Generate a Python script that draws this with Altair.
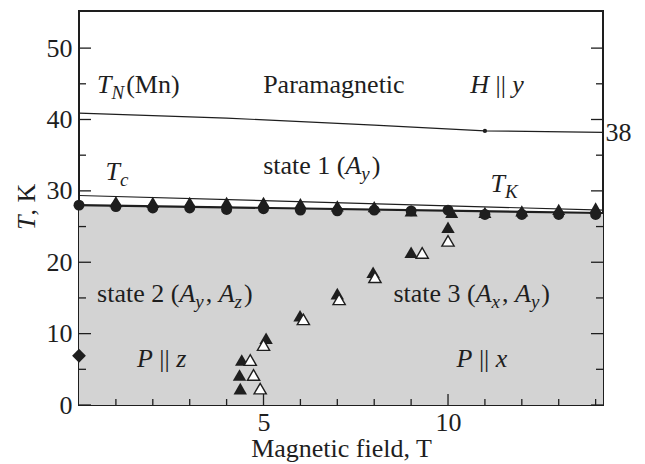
import altair as alt
import pandas as pd

FONT = "'Liberation Serif', 'Times New Roman', 'DejaVu Serif', serif"
INK = "#1e1e1e"
GRAY = "#d3d3d3"

# ---------------- data ----------------
# phase boundary T_K(H): filled circles and filled triangles
circ_H = [0, 1, 2, 3, 4, 5, 6, 7, 8, 9, 10, 11, 12, 13, 14]
circ_T = [28.0, 27.8, 27.6, 27.6, 27.4, 27.5, 27.3, 27.2, 27.3, 27.2, 27.3, 26.7, 26.7, 26.7, 26.7]
triK_H = [1, 2, 3, 4, 5, 6, 7, 8, 9, 10.1, 11, 12, 13, 14]
triK_T = [28.5, 28.4, 28.4, 28.4, 28.4, 28.2, 27.9, 27.8, 27.2, 27.0, 27.0, 27.2, 27.4, 27.6]

# spin-reorientation boundary state2/state3
fill_H = [4.37, 4.35, 4.41, 5.07, 5.99, 7.0, 7.97, 9.0, 10.0]
fill_T = [2.3, 4.2, 6.3, 9.35, 12.5, 15.6, 18.6, 21.4, 24.9]
open_H = [4.91, 4.73, 4.64, 5.0, 6.08, 7.05, 8.02, 9.3, 10.0]
open_T = [2.3, 4.2, 6.3, 8.4, 12.0, 14.8, 17.9, 21.3, 23.0]

# zero-field point
dia_H = [0]
dia_T = [6.9]

# lines
tn_H = [0, 4, 8, 11, 14.2]
tn_T = [40.9, 40.2, 39.2, 38.4, 38.2]
tc_H = [0, 14.2]
tc_T = [29.35, 27.3]
tk_H = [0, 14.2]
tk_T = [28.0, 26.9]
dot_H = [11]
dot_T = [38.4]

# axes
x_major = [5, 10]
x_minor = [1, 2, 3, 4, 6, 7, 8, 9, 11, 12, 13, 14]
y_major = [0, 10, 20, 30, 40, 50]
y_minor = [5, 15, 25, 35, 45]
X_MAX = 14.2
Y_MAX = 55.2

W, H = 524, 394
PX_X = W / X_MAX
PX_Y = H / Y_MAX

# ---------------- text pieces ----------------
ROMAN_W = {' ': 250, '(': 333, ')': 333, ',': 250, '1': 500, '2': 500, '3': 500, '8': 500,
           's': 389, 't': 278, 'a': 444, 'e': 444, 'M': 889, 'n': 500, 'P': 556, 'r': 333,
           'm': 778, 'g': 500, 'i': 278, 'c': 444, '|': 200, 'K': 722}
ITALIC_W = {'T': 556, 'N': 667, 'c': 444, 'K': 667, 'A': 611, 'y': 444, 'z': 389,
            'x': 444, 'H': 722, 'P': 611}
SIZE = 26
SUB = 19
SUB_DROP = 6


def seg_width(text, style):
    if style == 'r':
        return sum(ROMAN_W.get(ch, 500) for ch in text) / 1000 * SIZE
    size = SIZE if style == 'i' else SUB
    return sum(ITALIC_W.get(ch, 500) for ch in text) / 1000 * size


labels = [
    (0.49, 43.73, [("T", "i"), ("N", "s"), ("(Mn)", "r")]),
    (4.99, 43.73, [("Paramagnetic", "r")]),
    (10.6, 43.73, [("H", "i"), (" || ", "r"), ("y", "i")]),
    (0.72, 31.47, [("T", "i"), ("c", "s")]),
    (4.99, 32.38, [("state 1 (", "r"), ("A", "i"), ("y", "s"), (")", "r")]),
    (11.15, 29.79, [("T", "i"), ("K", "s")]),
    (0.49, 14.44, [("state 2 (", "r"), ("A", "i"), ("y", "s"), (", ", "r"), ("A", "i"), ("z", "s"), (")", "r")]),
    (8.52, 14.44, [("state 3 (", "r"), ("A", "i"), ("x", "s"), (", ", "r"), ("A", "i"), ("y", "s"), (")", "r")]),
    (1.57, 5.33, [("P", "i"), (" || ", "r"), ("z", "i")]),
    (10.23, 5.33, [("P", "i"), (" || ", "r"), ("x", "i")]),
    (14.27, 37.05, [("38", "r")]),
]

SPACE = ROMAN_W[' '] / 1000 * SIZE

rows = []
for x0, y0, segs in labels:
    off = 0.0
    for txt, st in segs:
        lead = len(txt) - len(txt.lstrip(' '))
        trail = len(txt) - len(txt.rstrip(' '))
        core = txt.strip(' ')
        off += lead * SPACE
        yy = y0 - (SUB_DROP / PX_Y if st == 's' else 0)
        rows.append({"H": x0 + off / PX_X, "T": yy, "text": core, "style": st, "angle": 0})
        off += seg_width(core, st) + trail * SPACE + (2 if st == 's' else 0)

# rotated y title "T, K"
yt_x, yt_y = -1.19, 24.53
off = 0.0
for txt, st in [("T", "i"), (", K", "r")]:
    rows.append({"H": yt_x, "T": yt_y + off / PX_Y, "text": txt, "style": st, "angle": 270})
    off += seg_width(txt, st)

texts = pd.DataFrame(rows)

# ---------------- chart ----------------
xs = alt.Scale(domain=[0, X_MAX], nice=False, zero=False)
ys = alt.Scale(domain=[0, Y_MAX], nice=False, zero=False)

x_axis = alt.Axis(values=x_major, ticks=False, tickSize=0, domain=False, grid=False,
                  labelFont=FONT, labelFontSize=SIZE, labelColor=INK, labelPadding=4,
                  format="d", title="Magnetic field, T", titleFont=FONT, titleFontSize=SIZE,
                  titleFontWeight="normal", titleColor=INK, titlePadding=0)
y_axis = alt.Axis(values=y_major, ticks=False, tickSize=0, domain=False, grid=False,
                  labelFont=FONT, labelFontSize=SIZE, labelColor=INK, labelPadding=7,
                  format="d", title="")


def X(field="H"):
    return alt.X(f"{field}:Q", scale=xs, axis=x_axis)


def Y(field="T"):
    return alt.Y(f"{field}:Q", scale=ys, axis=y_axis)


def df(h, t):
    return pd.DataFrame({"H": h, "T": t})


area = alt.Chart(df(tk_H, tk_T)).mark_area(color=GRAY, opacity=1).encode(x=X(), y=Y(), y2=alt.datum(0))

line_tk = alt.Chart(df(tk_H, tk_T)).mark_line(color=INK, strokeWidth=2.2).encode(x=X(), y=Y())
line_tc = alt.Chart(df(tc_H, tc_T)).mark_line(color=INK, strokeWidth=1.2).encode(x=X(), y=Y())
line_tn = alt.Chart(df(tn_H, tn_T)).mark_line(color=INK, strokeWidth=1.2).encode(x=X(), y=Y())

# inward ticks
ym = pd.DataFrame({"T": y_major})
yn = pd.DataFrame({"T": y_minor})
xm = pd.DataFrame({"H": x_major})
xn = pd.DataFrame({"H": x_minor})
tick_style = dict(color=INK, strokeWidth=1.3)
ticks = [
    alt.Chart(ym).mark_rule(**tick_style).encode(y=Y(), x=alt.value(0), x2=alt.value(12)),
    alt.Chart(yn).mark_rule(**tick_style).encode(y=Y(), x=alt.value(0), x2=alt.value(7)),
    alt.Chart(ym).mark_rule(**tick_style).encode(y=Y(), x=alt.value(W), x2=alt.value(W - 12)),
    alt.Chart(yn).mark_rule(**tick_style).encode(y=Y(), x=alt.value(W), x2=alt.value(W - 7)),
    alt.Chart(xm).mark_rule(**tick_style).encode(x=X(), y=alt.value(H), y2=alt.value(H - 11)),
    alt.Chart(xn).mark_rule(**tick_style).encode(x=X(), y=alt.value(H), y2=alt.value(H - 6)),
]

tri_k = alt.Chart(df(triK_H, triK_T)).mark_point(shape="triangle-up", filled=True, color=INK,
                                                  opacity=1, size=170).encode(x=X(), y=Y())
circles = alt.Chart(df(circ_H, circ_T)).mark_point(shape="circle", filled=True, color=INK,
                                                   opacity=1, size=120).encode(x=X(), y=Y())
tri_f = alt.Chart(df(fill_H, fill_T)).mark_point(shape="triangle-up", filled=True, color=INK,
                                                  opacity=1, size=180).encode(x=X(), y=Y())
tri_o = alt.Chart(df(open_H, open_T)).mark_point(shape="triangle-up", filled=True, fill="white",
                                                  stroke=INK, strokeWidth=1.4, opacity=1,
                                                  size=150).encode(x=X(), y=Y())
diamond = alt.Chart(df(dia_H, dia_T)).mark_point(shape="diamond", filled=True, color=INK,
                                                  opacity=1, size=190).encode(x=X(), y=Y())
dot = alt.Chart(df(dot_H, dot_T)).mark_point(shape="circle", filled=True, color=INK,
                                             opacity=1, size=18).encode(x=X(), y=Y())


def text_layer(styles, italic, size):
    return alt.Chart(texts).transform_filter(
        alt.FieldOneOfPredicate(field="style", oneOf=styles)
    ).mark_text(align="left", baseline="alphabetic", font=FONT, fontSize=size,
                fontStyle="italic" if italic else "normal", color=INK).encode(
        x=X(), y=Y(), text="text:N", angle=alt.Angle("angle:Q", scale=None))


txt_r = text_layer(["r"], False, SIZE)
txt_i = text_layer(["i"], True, SIZE)
txt_s = text_layer(["s"], True, SUB)

chart = alt.layer(
    area, line_tn, line_tc, line_tk, *ticks, tri_k, circles, tri_f, tri_o, diamond, dot,
    txt_r, txt_i, txt_s
).properties(
    width=W, height=H,
    autosize=alt.AutoSizeParams(type="none"),
    padding={"left": 71, "top": 3, "right": 34, "bottom": 58},
    background="white",
).configure_view(stroke=INK, strokeWidth=2)

chart.save("out.html", embed_options={"renderer": "svg", "actions": False})
